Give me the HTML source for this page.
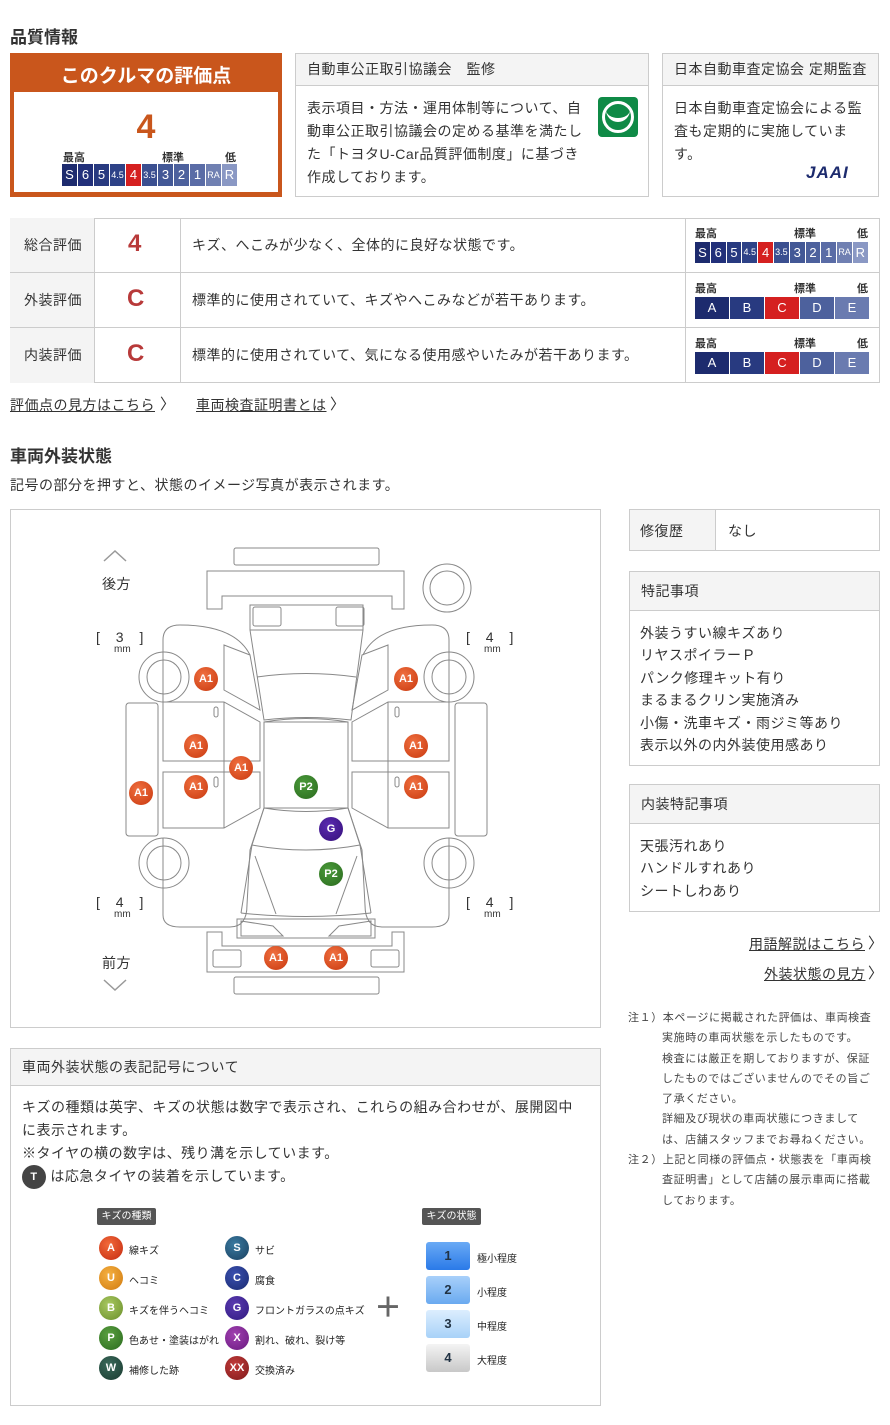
<!DOCTYPE html>
<html><head><meta charset="utf-8"><style>
*{margin:0;padding:0;box-sizing:border-box}
body{width:890px;height:1425px;background:#fff;position:relative;font-family:"Liberation Sans","Noto Sans CJK JP",sans-serif;color:#333;overflow:hidden}
.a{position:absolute}
.h{font-size:17px;font-weight:bold;color:#333}
.t14{font-size:14px;letter-spacing:0.5px}
.box{position:absolute;border:1px solid #ccc}
.hd{background:#f4f4f4;border-bottom:1px solid #ccc;font-size:14px;padding-left:11px;letter-spacing:.5px}
.sc{position:absolute;display:flex;gap:1px}
.sc div{color:#fff;text-align:center;font-size:13px}
.lb{position:absolute;font-size:11px;font-weight:bold;color:#333}
.mk{position:absolute;width:24px;height:24px;border-radius:50%;color:#fff;font-size:11px;text-align:center;line-height:24px;font-weight:bold}
.r{background:radial-gradient(circle at 40% 35%,#f07040,#c8380e)}
.g{background:radial-gradient(circle at 40% 35%,#4a9a3a,#2a6a1e)}
.p{background:radial-gradient(circle at 40% 35%,#5a2ab0,#35107a)}
.lg{position:absolute;font-size:10px;color:#222}
.st{position:absolute;width:44px;height:28px;border-radius:3px;text-align:center;line-height:28px;font-size:13px;font-weight:bold;color:#234}
.nt{white-space:nowrap;letter-spacing:0.6px}
</style></head><body>
<div class="a h" style="left:10px;top:23px">品質情報</div>

<div class="a" style="left:10px;top:53px;width:272px;height:144px;background:#c9561c"></div>
<div class="a" style="left:14px;top:92px;width:264px;height:100px;background:#fff"></div>
<div class="a" style="left:10px;top:61px;width:272px;text-align:center;color:#fff;font-size:19px;font-weight:bold">このクルマの評価点</div>
<div class="a" style="left:10px;top:108px;width:272px;text-align:center;color:#c9561c;font-size:34px;font-weight:bold">4</div>
<div class="lb" style="left:63px;top:149px">最高</div><div class="lb" style="left:162px;top:149px">標準</div><div class="lb" style="left:225px;top:149px">低</div>
<div class="sc" style="left:62px;top:164px;height:22px;line-height:22px">
<div style="width:15px;background:#1d2b6e">S</div><div style="width:15px;background:#22307a">6</div><div style="width:15px;background:#283a80">5</div><div style="width:15px;background:#2e4287;font-size:9px">4.5</div><div style="width:15px;background:#d52020">4</div><div style="width:15px;background:#3b4f90;font-size:9px">3.5</div><div style="width:15px;background:#435896">3</div><div style="width:15px;background:#4d619d">2</div><div style="width:15px;background:#5a6ca6">1</div><div style="width:15px;background:#7080b2;font-size:9px">RA</div><div style="width:15px;background:#8a98c4">R</div>
</div>

<div class="box" style="left:295px;top:53px;width:354px;height:144px">
<div class="hd" style="height:32px;line-height:31px">自動車公正取引協議会　監修</div>
<div class="t14" style="padding:11px 0 0 11px;width:290px;line-height:23px">表示項目・方法・運用体制等について、自動車公正取引協議会の定める基準を満たした「トヨタU-Car品質評価制度」に基づき作成しております。</div>
</div>
<div class="a" style="left:598px;top:97px;width:40px;height:40px;background:#0f8a46;border-radius:4px"></div>
<div class="a" style="left:602px;top:101px;width:32px;height:32px;border:3px solid #fff;border-radius:50%"></div>
<div class="a" style="left:606px;top:110px;width:24px;height:12px;border-bottom:4px solid #fff;border-radius:0 0 12px 12px"></div>

<div class="box" style="left:662px;top:53px;width:217px;height:144px">
<div class="hd" style="height:32px;line-height:31px">日本自動車査定協会 定期監査</div>
<div class="t14" style="padding:11px 0 0 11px;width:210px;line-height:23px">日本自動車査定協会による監査も定期的に実施しています。</div>
</div>
<div class="a" style="left:806px;top:163px;font-size:17px;font-weight:900;font-style:italic;color:#1d2b6e;letter-spacing:1px">JAAI</div>

<div class="box" style="left:10px;top:218px;width:870px;height:165px"></div>
<div class="a" style="left:10px;top:218px;width:85px;height:165px;background:#f4f4f4;border-right:1px solid #ccc"></div>
<div class="a" style="left:10px;top:272px;width:870px;border-top:1px solid #ccc"></div>
<div class="a" style="left:10px;top:327px;width:870px;border-top:1px solid #ccc"></div>
<div class="a" style="left:180px;top:218px;height:165px;border-left:1px solid #ccc"></div>
<div class="a" style="left:685px;top:218px;height:165px;border-left:1px solid #ccc"></div>
<div class="a t14" style="left:24px;top:235px">総合評価</div>
<div class="a t14" style="left:24px;top:290px">外装評価</div>
<div class="a t14" style="left:24px;top:345px">内装評価</div>
<div class="a" style="left:128px;top:230px;font-size:24px;font-weight:bold;color:#b83a3a">4</div>
<div class="a" style="left:127px;top:285px;font-size:24px;font-weight:bold;color:#b83a3a">C</div>
<div class="a" style="left:127px;top:340px;font-size:24px;font-weight:bold;color:#b83a3a">C</div>
<div class="a t14" style="left:192px;top:235px">キズ、へこみが少なく、全体的に良好な状態です。</div>
<div class="a t14" style="left:192px;top:290px">標準的に使用されていて、キズやへこみなどが若干あります。</div>
<div class="a t14" style="left:192px;top:345px">標準的に使用されていて、気になる使用感やいたみが若干あります。</div>
<div class="lb" style="left:695px;top:225px">最高</div><div class="lb" style="left:794px;top:225px">標準</div><div class="lb" style="left:857px;top:225px">低</div>
<div class="sc" style="left:695px;top:242px;height:21px;line-height:21px">
<div style="width:14.8px;background:#1d2b6e">S</div><div style="width:14.8px;background:#22307a">6</div><div style="width:14.8px;background:#283a80">5</div><div style="width:14.8px;background:#2e4287;font-size:9px">4.5</div><div style="width:14.8px;background:#d52020">4</div><div style="width:14.8px;background:#3b4f90;font-size:9px">3.5</div><div style="width:14.8px;background:#435896">3</div><div style="width:14.8px;background:#4d619d">2</div><div style="width:14.8px;background:#5a6ca6">1</div><div style="width:14.8px;background:#7080b2;font-size:9px">RA</div><div style="width:14.8px;background:#8a98c4">R</div>
</div>
<div class="lb" style="left:695px;top:280px">最高</div><div class="lb" style="left:794px;top:280px">標準</div><div class="lb" style="left:857px;top:280px">低</div>
<div class="sc" style="left:695px;top:297px;height:22px;line-height:22px">
<div style="width:34px;background:#1d2b6e">A</div><div style="width:34px;background:#283a80">B</div><div style="width:34px;background:#d52020">C</div><div style="width:34px;background:#4d619d">D</div><div style="width:34px;background:#6a7bb0">E</div>
</div>
<div class="lb" style="left:695px;top:335px">最高</div><div class="lb" style="left:794px;top:335px">標準</div><div class="lb" style="left:857px;top:335px">低</div>
<div class="sc" style="left:695px;top:352px;height:22px;line-height:22px">
<div style="width:34px;background:#1d2b6e">A</div><div style="width:34px;background:#283a80">B</div><div style="width:34px;background:#d52020">C</div><div style="width:34px;background:#4d619d">D</div><div style="width:34px;background:#6a7bb0">E</div>
</div>

<div class="a t14" style="left:10px;top:395px;text-decoration:underline">評価点の見方はこちら</div><div class="a" style="left:160px;top:393px;font-size:15px">〉</div>
<div class="a t14" style="left:196px;top:395px;text-decoration:underline">車両検査証明書とは</div><div class="a" style="left:330px;top:393px;font-size:15px">〉</div>

<div class="a h" style="left:10px;top:442px">車両外装状態</div>
<div class="a t14" style="left:10px;top:475px">記号の部分を押すと、状態のイメージ写真が表示されます。</div>

<div class="box" style="left:10px;top:509px;width:591px;height:519px"></div>
<svg class="a" style="left:0;top:0" width="610" height="1030" fill="none" stroke="#888" stroke-width="1">
<rect x="234" y="548" width="145" height="17" rx="2"/>
<path d="M207 571 H404 V609 H392 V596 H222 V609 H207 Z"/>
<circle cx="447" cy="588" r="24"/><circle cx="447" cy="588" r="17"/>
<circle cx="164" cy="677" r="25"/><circle cx="164" cy="677" r="17"/>
<circle cx="449" cy="677" r="25"/><circle cx="449" cy="677" r="17"/>
<circle cx="164" cy="863" r="25"/><circle cx="164" cy="863" r="17"/>
<circle cx="449" cy="863" r="25"/><circle cx="449" cy="863" r="17"/>
<rect x="126" y="703" width="32" height="133" rx="3"/>
<rect x="455" y="703" width="32" height="133" rx="3"/>
<path d="M250 605 H363 V630 L351 720 Q306 715 264 720 L250 630 Z"/>
<rect x="253" y="607" width="28" height="19" rx="2"/><rect x="336" y="607" width="28" height="19" rx="2"/>
<path d="M250 630 H363"/><path d="M257 677 Q306 670 356 677"/>
<path d="M264 722 H348 V808 H264 Z"/><path d="M264 722 Q306 715 348 722"/>
<path d="M264 808 Q306 815 348 808 L360 845"/>
<path d="M264 808 L252 845 M252 845 Q306 855 360 845 M252 845 L241 913 M360 845 L371 913"/>
<path d="M241 913 Q306 920 371 913"/><path d="M255 856 L276 914 M357 856 L336 914"/>
<path d="M237 919 L375 919 L375 938 L237 938 Z"/>
<path d="M241 921 L273 926 L283 936 L241 936 Z M371 921 L339 926 L329 936 L371 936 Z"/>
<path d="M163 715 V640 Q163 625 180 625 Q235 625 250 655 M163 838 V915 Q163 927 180 927 H230 Q247 927 247 905 L250 850 L264 808"/>
<path d="M449 715 V640 Q449 625 432 625 Q377 625 363 655 M449 838 V915 Q449 927 432 927 H382 Q365 927 365 905 L362 850 L348 808"/>
<path d="M224 645 L250 655 L260 710 L224 690 Z"/><path d="M388 645 L362 655 L352 710 L388 690 Z"/>
<path d="M163 702 H224 L260 722 V761 H163 Z M163 772 H260 V808 L224 828 H163 Z"/>
<path d="M449 702 H388 L352 722 V761 H449 Z M449 772 H352 V808 L388 828 H449 Z"/>
<path d="M224 702 V828 M388 702 V828"/>
<rect x="214" y="707" width="4" height="10" rx="2"/><rect x="214" y="777" width="4" height="10" rx="2"/>
<rect x="395" y="707" width="4" height="10" rx="2"/><rect x="395" y="777" width="4" height="10" rx="2"/>
<path d="M207 932 V972 H404 V932 H392 V946 H222 V932 Z"/>
<rect x="213" y="950" width="28" height="17" rx="2"/><rect x="371" y="950" width="28" height="17" rx="2"/>
<rect x="234" y="977" width="145" height="17" rx="2"/>
<path d="M104 561 L115 551 L126 561 M104 980 L115 990 L126 980" stroke="#999" stroke-width="1.5"/>
</svg>
<div class="a t14" style="left:102px;top:574px">後方</div>
<div class="a t14" style="left:102px;top:953px">前方</div>
<div class="a" style="left:96px;top:629px;font-size:14px;letter-spacing:6px">[ 3 ]</div><div class="a" style="left:114px;top:644px;font-size:10px">mm</div>
<div class="a" style="left:466px;top:629px;font-size:14px;letter-spacing:6px">[ 4 ]</div><div class="a" style="left:484px;top:644px;font-size:10px">mm</div>
<div class="a" style="left:96px;top:894px;font-size:14px;letter-spacing:6px">[ 4 ]</div><div class="a" style="left:114px;top:909px;font-size:10px">mm</div>
<div class="a" style="left:466px;top:894px;font-size:14px;letter-spacing:6px">[ 4 ]</div><div class="a" style="left:484px;top:909px;font-size:10px">mm</div>
<div class="mk r" style="left:194px;top:667px">A1</div>
<div class="mk r" style="left:394px;top:667px">A1</div>
<div class="mk r" style="left:184px;top:734px">A1</div>
<div class="mk r" style="left:229px;top:756px">A1</div>
<div class="mk r" style="left:184px;top:775px">A1</div>
<div class="mk r" style="left:129px;top:781px">A1</div>
<div class="mk r" style="left:404px;top:734px">A1</div>
<div class="mk r" style="left:404px;top:775px">A1</div>
<div class="mk g" style="left:294px;top:775px">P2</div>
<div class="mk p" style="left:319px;top:817px">G</div>
<div class="mk g" style="left:319px;top:862px">P2</div>
<div class="mk r" style="left:264px;top:946px">A1</div>
<div class="mk r" style="left:324px;top:946px">A1</div>

<div class="box" style="left:629px;top:509px;width:251px;height:42px;background:#fff"></div>
<div class="a" style="left:629px;top:509px;width:87px;height:42px;background:#f4f4f4;border:1px solid #ccc"></div>
<div class="a t14" style="left:640px;top:521px">修復歴</div><div class="a t14" style="left:728px;top:521px">なし</div>
<div class="box" style="left:629px;top:571px;width:251px;height:195px">
<div class="hd" style="height:39px;line-height:38px">特記事項</div>
<div class="t14" style="padding:11px 0 0 10px;line-height:22.4px">外装うすい線キズあり<br>リヤスポイラーＰ<br>パンク修理キット有り<br>まるまるクリン実施済み<br>小傷・洗車キズ・雨ジミ等あり<br>表示以外の内外装使用感あり</div>
</div>
<div class="box" style="left:629px;top:784px;width:251px;height:128px">
<div class="hd" style="height:39px;line-height:38px">内装特記事項</div>
<div class="t14" style="padding:11px 0 0 10px;line-height:22.4px">天張汚れあり<br>ハンドルすれあり<br>シートしわあり</div>
</div>
<div class="a t14" style="left:749px;top:934px;text-decoration:underline">用語解説はこちら</div><div class="a" style="left:868px;top:932px;font-size:15px">〉</div>
<div class="a t14" style="left:764px;top:964px;text-decoration:underline">外装状態の見方</div><div class="a" style="left:868px;top:962px;font-size:15px">〉</div>
<div class="a" style="left:628px;top:1008px;font-size:11px;line-height:20.3px;color:#444">
<div class="nt">注１）本ページに掲載された評価は、車両検査</div>
<div class="nt" style="padding-left:34px">実施時の車両状態を示したものです。</div>
<div class="nt" style="padding-left:34px">検査には厳正を期しておりますが、保証</div>
<div class="nt" style="padding-left:34px">したものではございませんのでその旨ご</div>
<div class="nt" style="padding-left:34px">了承ください。</div>
<div class="nt" style="padding-left:34px">詳細及び現状の車両状態につきまして</div>
<div class="nt" style="padding-left:34px">は、店舗スタッフまでお尋ねください。</div>
<div class="nt">注２）上記と同様の評価点・状態表を「車両検</div>
<div class="nt" style="padding-left:34px">査証明書」として店舗の展示車両に搭載</div>
<div class="nt" style="padding-left:34px">しております。</div>
</div>

<div class="box" style="left:10px;top:1048px;width:591px;height:358px">
<div class="hd" style="height:37px;line-height:36px">車両外装状態の表記記号について</div>
<div class="t14" style="padding:10px 0 0 11px;line-height:23px;width:570px">キズの種類は英字、キズの状態は数字で表示され、これらの組み合わせが、展開図中に表示されます。<br>※タイヤの横の数字は、残り溝を示しています。<br><span style="display:inline-block;width:24px;height:24px;border-radius:50%;background:#444;color:#fff;font-size:11px;text-align:center;line-height:24px;font-weight:bold;vertical-align:middle">T</span> は応急タイヤの装着を示しています。</div>
</div>
<div class="a" style="left:97px;top:1208px;width:59px;height:17px;background:#555;color:#fff;font-size:10px;text-align:center;line-height:17px;border-radius:2px">キズの種類</div>
<div class="a" style="left:422px;top:1208px;width:59px;height:17px;background:#555;color:#fff;font-size:10px;text-align:center;line-height:17px;border-radius:2px">キズの状態</div>
<div class="mk" style="left:99px;top:1236px;background:radial-gradient(circle at 40% 35%,#f26a3a,#c42a10)">A</div><div class="lg" style="left:129px;top:1242px">線キズ</div>
<div class="mk" style="left:99px;top:1266px;background:radial-gradient(circle at 40% 35%,#f5b040,#d07a10)">U</div><div class="lg" style="left:129px;top:1272px">ヘコミ</div>
<div class="mk" style="left:99px;top:1296px;background:radial-gradient(circle at 40% 35%,#a8c860,#6a8e2a)">B</div><div class="lg" style="left:129px;top:1302px">キズを伴うヘコミ</div>
<div class="mk" style="left:99px;top:1326px;background:radial-gradient(circle at 40% 35%,#5aa040,#2a6a1e)">P</div><div class="lg" style="left:129px;top:1332px">色あせ・塗装はがれ</div>
<div class="mk" style="left:99px;top:1356px;background:radial-gradient(circle at 40% 35%,#3a6a5a,#1a3a30)">W</div><div class="lg" style="left:129px;top:1362px">補修した跡</div>
<div class="mk" style="left:225px;top:1236px;background:radial-gradient(circle at 40% 35%,#3a7aa0,#1a4060)">S</div><div class="lg" style="left:255px;top:1242px">サビ</div>
<div class="mk" style="left:225px;top:1266px;background:radial-gradient(circle at 40% 35%,#3a50b0,#1a2a70)">C</div><div class="lg" style="left:255px;top:1272px">腐食</div>
<div class="mk" style="left:225px;top:1296px;background:radial-gradient(circle at 40% 35%,#5a3ab0,#301a80)">G</div><div class="lg" style="left:255px;top:1302px">フロントガラスの点キズ</div>
<div class="mk" style="left:225px;top:1326px;background:radial-gradient(circle at 40% 35%,#a040b0,#6a1a80)">X</div><div class="lg" style="left:255px;top:1332px">割れ、破れ、裂け等</div>
<div class="mk" style="left:225px;top:1356px;background:radial-gradient(circle at 40% 35%,#c03a3a,#801a1a)">XX</div><div class="lg" style="left:255px;top:1362px">交換済み</div>
<div class="a" style="left:374px;top:1296px;font-size:28px;font-weight:bold;color:#666;line-height:24px">＋</div>
<div class="st" style="left:426px;top:1242px;background:linear-gradient(#6aaaf5,#2a7ae8)">1</div><div class="lg" style="left:477px;top:1250px">極小程度</div>
<div class="st" style="left:426px;top:1276px;background:linear-gradient(#a8d0fa,#6aaaf0)">2</div><div class="lg" style="left:477px;top:1284px">小程度</div>
<div class="st" style="left:426px;top:1310px;background:linear-gradient(#dceefe,#a8d2f8)">3</div><div class="lg" style="left:477px;top:1318px">中程度</div>
<div class="st" style="left:426px;top:1344px;background:linear-gradient(#f4f4f4,#c8c8c8)">4</div><div class="lg" style="left:477px;top:1352px">大程度</div>
</body></html>
